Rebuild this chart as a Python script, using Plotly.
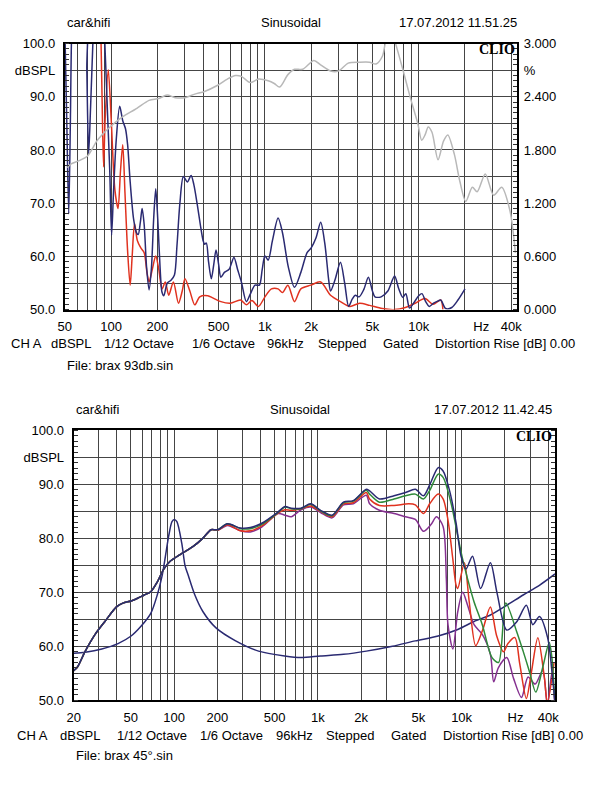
import math
import plotly.graph_objects as go

W, H = 608, 786

# ---------------- Top chart (distortion) ----------------
TOP_X_LABEL_VALS = [50, 100, 200, 500, 1000, 2000, 5000, 10000, 25500, 40000]
TOP_X_LABEL_TEXT = ["50", "100", "200", "500", "1k", "2k", "5k", "10k", "Hz", "40k"]
TOP_GRID_F = ([50, 60, 70, 80, 90] + [100 * k for k in range(1, 10)] +
              [1000 * k for k in range(1, 10)] + [10000, 20000, 30000, 40000])

DB_TICK_VALS = [50, 55, 60, 65, 70, 75, 80, 85, 90, 95, 100]
DB_TICK_TEXT = ["50.0", "", "60.0", "", "70.0", "", "80.0", "", "90.0", "dBSPL", "100.0"]
PCT_TICK_VALS = [0, 0.3, 0.6, 0.9, 1.2, 1.5, 1.8, 2.1, 2.4, 2.7, 3.0]
PCT_TICK_TEXT = ["0.000", "", "0.600", "", "1.200", "", "1.800", "", "2.400", "%", "3.000"]

TOP_BLUE_F = [50, 51.5, 53, 54.3, 55.5, 57, 68, 69.5, 71.4, 73.5, 76.5, 78, 88, 91, 95, 98,
              100.7, 103.6, 108, 113.7, 119, 124, 128, 133, 140, 146, 150, 155, 159, 164, 170,
              176.5, 183, 189, 195, 201, 208, 214, 220, 232, 245, 258, 268, 280, 295, 313, 331,
              345, 362, 380, 396, 405, 416, 430, 448, 465, 481, 500, 517, 545, 585, 629, 665,
              703, 757, 800, 862, 920, 960, 1000, 1050, 1120, 1218, 1300, 1420, 1557, 1713,
              1880, 2000, 2150, 2305, 2450, 2600, 2671, 2850, 3099, 3300, 3502, 3700, 3867,
              4100, 4400, 4706, 5000, 5193, 5700, 6300, 6970, 7400, 7880, 8250, 8713, 9300,
              10000, 10500, 11100, 11720, 12500, 13300, 13910, 14960, 16420, 18000, 20000]
TOP_BLUE_DB = [103, 85, 68, 85, 103, 108, 108, 95, 79.2, 88, 102, 108, 108, 100, 86, 76,
               64, 72, 82, 88.2, 85.5, 84, 81, 74, 67, 64.5, 64.1, 66.5, 69, 66, 58,
               53.7, 58, 67, 72.7, 67, 58, 53.3, 52.6, 55, 55.5, 56.5, 62, 70, 75, 74, 75.2,
               73.5, 70, 66, 63, 62.3, 62.5, 59, 55.8, 58.5, 61.2, 58.5, 56.1, 57, 57.6, 59.8, 57.5,
               55.2, 51.5, 52.8, 54.6, 54.6, 57.5, 60.1, 59.3, 63, 67.2, 64.5, 58, 54.2, 57,
               60.7, 61.6, 63.5, 66.4, 62.5, 55.5, 53.5, 55.5, 58.9, 55, 50.6, 52, 52.7,
               52.4, 53.8, 56.1, 53.5, 52.4, 52.4, 53.5, 56.3, 54, 52.3, 53, 50.3, 51.3,
               52.6, 53, 51.5, 50.6, 51.2, 51.6, 51.8, 50.2, 50.4, 51.8, 53.9]

TOP_RED_F = [85.5, 87.3, 89.3, 91.5, 95.8, 100, 105.8, 110.9, 115, 119, 123, 128, 133, 137,
             142, 148, 156, 164, 171, 176.5, 185, 195, 204, 214.5, 225, 237, 254, 274, 290,
             302, 325, 350, 377, 425, 458, 517, 596, 694, 757, 823, 908, 1000, 1103, 1218,
             1300, 1411, 1557, 1713, 1988, 2305, 2671, 3099, 3569, 4131, 4800, 5790, 6970,
             8195, 9490, 10985, 12400, 13910, 14370]
TOP_RED_DB = [104, 90, 76.8, 86, 95.1, 86, 72.5, 69, 76, 81, 72, 61, 54.6, 60,
              66.2, 63, 61.6, 60.7, 57, 55.2, 57.5, 60.1, 57.6, 53.9, 55.2, 52.7, 55.2, 51.2, 53.5,
              55.8, 53.5, 50.9, 52.4, 52.6, 52.2, 51.5, 51.2, 51.8, 50.9, 51.7, 50.6, 52.4, 53.9, 53.9,
              53.2, 54.6, 51.5, 53.9, 54.6, 55.2, 52.7, 51.5, 50.6, 51.2, 50.8, 50.2, 50.0,
              50.4, 51.2, 52.1, 51.0, 51.8, 50.0]

TOP_GRAY_F = [52, 54.6, 62, 70, 80.6, 87.1, 100, 113.7, 122.6, 147, 176.5, 204, 231, 261,
              302, 350, 405, 493, 570, 644, 703, 803, 908, 1050, 1150, 1247, 1411, 1557, 1758,
              2084, 2300, 2671, 3005, 3481, 4131, 4786, 5281, 5815, 6053, 6300, 6800, 7079,
              7880, 8820, 9860, 10460, 11000, 11535, 12200, 13360, 14500, 15460, 17060, 18500,
              20230, 22330, 24000, 27100, 30700, 34650, 39150, 42550]
TOP_GRAY_PCT = [1.60, 1.64, 1.68, 1.73, 1.90, 1.97, 2.07, 2.15, 2.19, 2.27, 2.36, 2.38, 2.42, 2.39,
                2.39, 2.43, 2.46, 2.53, 2.60, 2.64, 2.63, 2.56, 2.60, 2.58, 2.55, 2.51, 2.65, 2.71, 2.71,
                2.81, 2.76, 2.69, 2.69, 2.78, 2.79, 2.79, 2.77, 2.86, 3.0, 3.1, 3.1, 3.0,
                2.71, 2.39, 2.10, 1.91, 1.97, 2.06, 2.0, 1.69, 1.9, 1.97, 1.75, 1.45,
                1.22, 1.38, 1.33, 1.53, 1.29, 1.38, 1.12, 0.64]

# ---------------- Bottom chart (frequency response) ----------------
BOT_X_LABEL_VALS = [20, 50, 100, 200, 500, 1000, 2000, 5000, 10000, 23700, 40000]
BOT_X_LABEL_TEXT = ["20", "50", "100", "200", "500", "1k", "2k", "5k", "10k", "Hz", "40k"]
BOT_GRID_F = ([20, 30, 40, 50, 60, 70, 80, 90] + [100 * k for k in range(1, 10)] +
              [1000 * k for k in range(1, 10)] + [10000, 20000, 30000, 40000])

FR_LOW_F = [20, 21.2, 24.1, 28.2, 33, 39.7, 44, 50.2, 55.7, 61.9, 68.8, 76.3, 84.7, 94.2,
            110, 135.7, 158.8, 180.8]
FR_LOW_DB = [55.5, 56.1, 59.1, 62.2, 64.6, 67.3, 68.0, 68.4, 68.9, 69.5, 70.1, 71.9, 74.3, 75.8,
             77.0, 78.5, 80.05, 81.6]

FR_MID_F = [201, 235, 290, 339, 407, 529, 590, 652, 763, 892, 1044, 1255, 1506, 1762, 2173]
NAVY_MID_DB = [81.6, 82.7, 81.9, 82.0, 82.8, 84.9, 85.9, 85.6, 85.6, 86.4, 85.2, 84.3, 86.7, 87.0, 89.1]
GREEN_MID_DB = [81.6, 82.7, 81.8, 81.8, 82.6, 84.8, 85.8, 85.5, 85.5, 86.3, 85.1, 84.2, 86.6, 86.9, 88.9]
RED_MID_DB = [81.5, 82.5, 81.4, 81.4, 82.3, 84.7, 85.3, 85.2, 85.5, 86.0, 85.0, 84.0, 86.4, 86.6, 88.5]
PURPLE_MID_DB = [81.5, 82.4, 81.4, 81.2, 82.1, 84.6, 84.3, 84.0, 85.3, 85.8, 84.8, 83.8, 86.2, 86.4, 88.0]

NAVY_HI_F = [2290, 2679, 3388, 4074, 4764, 5428, 6026, 6868, 7430, 8252, 9152, 9900, 10710,
             11900, 13550, 15850, 17600, 20600, 24100, 28200, 31300, 34760, 39650, 42860, 44680]
NAVY_HI_DB = [88.8, 87.3, 87.9, 88.5, 89.1, 87.9, 90.05, 93.1, 92.5, 88.8, 82.8, 76.7, 74.3,
              76.7, 70.7, 75.5, 70, 63, 64.5, 67.6, 64, 65.5, 61.6, 54.3, 49.5]

GREEN_HI_F = [2290, 2679, 3388, 4074, 4764, 5428, 6026, 6868, 7430, 8464, 9400, 10170, 11000,
              12210, 13920, 16280, 18080, 20280, 24100, 26780, 29720, 32800, 36680, 40680,
              42420, 44680]
GREEN_HI_DB = [88.2, 86.7, 87.3, 87.9, 88.2, 87.3, 89.0, 91.9, 91.3, 86.4, 80.4, 76.1, 72.5,
               68.2, 64.0, 57.9, 57.0, 68.0, 62.8, 59.1, 55.2, 51.5, 56.1, 60.7,
               58.0, 49.0]

RED_HI_F = [2290, 2679, 3388, 4290, 4764, 5428, 6026, 6868, 7430, 8036, 8690, 9152, 9400,
            10450, 11300, 12530, 14000, 15850, 17500, 19560, 21000, 23470, 25390, 28200,
            30500, 33890, 37600, 39500, 43960]
RED_HI_DB = [87.3, 86.1, 86.1, 86.4, 86.2, 84.6, 86.5, 88.2, 87.3, 83.4, 76.1, 71.3, 70.7,
             75.5, 68.2, 60.1, 63.0, 67.3, 62.0, 59.0, 60.5, 61.6, 56.7, 50.3,
             55.0, 61.6, 54.3, 49.5, 57.0]

PURPLE_HI_F = [2290, 2679, 3388, 4074, 4764, 5428, 6100, 6686, 7430, 7826, 8036, 8690, 9400,
               10170, 11000, 12210, 13920, 15850, 16720, 18000, 20600, 23000, 26090, 28980,
               32500, 36680, 39500, 42400, 44680]
PURPLE_HI_DB = [86.4, 85.2, 84.6, 84.0, 83.5, 81.3, 82.5, 84.0, 82.2, 72.5, 64.0, 59.5, 66.4,
                70.0, 67.6, 64.0, 62.2, 58.5, 53.4, 56.0, 57.9, 54.0, 50.5, 54.3,
                53.0, 55.5, 49.0, 55.0, 48.0]

IMP_F = [20, 24.1, 31.4, 40.7, 50.2, 58.8, 68.8, 76.3, 82.5, 87, 91.6, 96.6, 100.2, 104.5,
         113, 119.2, 125.5, 139.4, 158.8, 195.6, 267.8, 386.7, 587, 763, 1044, 1506, 2173,
         3300, 4764, 6868, 9400, 12210, 15850, 20600, 26780, 34760, 44680]
IMP_DB = [58.7, 58.9, 59.5, 60.5, 61.9, 63.7, 66.1, 69.5, 73.1, 76.7, 80.4, 83.1, 83.5, 83.1,
          79.1, 74.9, 73.1, 69.5, 66.4, 63.4, 61.0, 59.1, 58.2, 57.9, 58.2, 58.5, 59.1,
          60.0, 61.0, 61.9, 63.1, 64.6, 65.8, 67.6, 69.5, 71.3, 73.4]

# ---------------- styles ----------------
NAVY = "#2a2a72"
RED = "#e0321f"
GRAY = "#b8b8b8"
GREEN = "#2f8a3a"
PURPLE = "#853090"
GRID = "#454545"
FONT = "Liberation Sans, Arial, sans-serif"
FS = 13


def px_x(p):
    return p / W


def px_y(p):
    return 1 - p / H


fig = go.Figure()


def line(x, y, color, xa, ya, width=1.5):
    fig.add_trace(go.Scatter(x=x, y=y, mode="lines", xaxis=xa, yaxis=ya,
                             line=dict(color=color, width=width, shape="spline", smoothing=0.8),
                             hoverinfo="skip"))


# top
line(TOP_GRAY_F, TOP_GRAY_PCT, GRAY, "x", "y2")
line(TOP_RED_F, TOP_RED_DB, RED, "x", "y")
line(TOP_BLUE_F, TOP_BLUE_DB, NAVY, "x", "y")

# bottom
line(IMP_F, IMP_DB, NAVY, "x2", "y3")
line(FR_LOW_F + FR_MID_F + PURPLE_HI_F, FR_LOW_DB + PURPLE_MID_DB + PURPLE_HI_DB, PURPLE, "x2", "y3")
line(FR_LOW_F + FR_MID_F + RED_HI_F, FR_LOW_DB + RED_MID_DB + RED_HI_DB, RED, "x2", "y3")
line(FR_LOW_F + FR_MID_F + GREEN_HI_F, FR_LOW_DB + GREEN_MID_DB + GREEN_HI_DB, GREEN, "x2", "y3")
line(FR_LOW_F + FR_MID_F + NAVY_HI_F, FR_LOW_DB + NAVY_MID_DB + NAVY_HI_DB, NAVY, "x2", "y3")

tickfont = dict(family=FONT, size=FS, color="black")


def xaxis_cfg(dom, anchor, rng, vals, text, grid):
    return dict(domain=dom, anchor=anchor, type="log", range=rng,
                tickmode="array", tickvals=vals, ticktext=text, showgrid=False,
                minor=dict(tickmode="array", tickvals=grid, showgrid=True, gridcolor=GRID,
                           gridwidth=1.2, ticks=""),
                ticks="", showline=True, linecolor="black", linewidth=2, mirror=True,
                tickfont=tickfont, ticklabelstandoff=4, zeroline=False, fixedrange=True)


def yaxis_cfg(dom, anchor):
    return dict(domain=dom, anchor=anchor, range=[50, 100], tickmode="array",
                tickvals=DB_TICK_VALS, ticktext=DB_TICK_TEXT, showgrid=True, gridcolor=GRID,
                gridwidth=1.2, ticks="",
                minor=dict(tickmode="linear", dtick=1, ticks="inside", ticklen=4,
                           tickcolor="#333", showgrid=False),
                showline=True, linecolor="black", linewidth=2, mirror="ticks",
                tickfont=tickfont, ticklabelstandoff=5, zeroline=False, fixedrange=True)


TOP_DOM_X = [px_x(59), px_x(520)]
TOP_DOM_Y = [px_y(308.5), px_y(37.3)]
BOT_DOM_X = [px_x(68), px_x(559)]
BOT_DOM_Y = [px_y(706.7), px_y(431.7)]

layout = dict(
    width=W, height=H, autosize=False,
    margin=dict(l=0, r=0, t=0, b=0),
    paper_bgcolor="white", plot_bgcolor="white",
    showlegend=False,
    xaxis=xaxis_cfg(TOP_DOM_X, "y", [math.log10(50), math.log10(43400)],
                    TOP_X_LABEL_VALS, TOP_X_LABEL_TEXT, TOP_GRID_F),
    yaxis=yaxis_cfg(TOP_DOM_Y, "x"),
    yaxis2=dict(overlaying="y", side="right", anchor="x", range=[0, 3], tickmode="array",
                tickvals=PCT_TICK_VALS, ticktext=PCT_TICK_TEXT, showgrid=False, ticks="",
                minor=dict(tickmode="linear", dtick=0.06, ticks="inside", ticklen=4,
                           tickcolor="#333", showgrid=False),
                showline=False, tickfont=tickfont, ticklabelstandoff=6, zeroline=False,
                fixedrange=True),
    xaxis2=xaxis_cfg(BOT_DOM_X, "y3", [math.log10(20), math.log10(44600)],
                     BOT_X_LABEL_VALS, BOT_X_LABEL_TEXT, BOT_GRID_F),
    yaxis3=yaxis_cfg(BOT_DOM_Y, "x2"),
)
fig.update_layout(**layout)


def text(s, x, y, xanchor="left", size=FS, family=FONT, bold=False):
    fig.add_annotation(text=("<b>%s</b>" % s) if bold else s, x=px_x(x), y=px_y(y),
                       xref="paper", yref="paper", xanchor=xanchor, yanchor="middle",
                       showarrow=False, font=dict(family=family, size=size, color="black"))


# headers
text("car&amp;hifi", 59, 16)
text("Sinusoidal", 290, 16, "center")
text("17.07.2012 11.51.25", 522, 16, "right")
text("car&amp;hifi", 68, 410)
text("Sinusoidal", 299, 410, "center")
text("17.07.2012 11.42.45", 558, 410, "right")

# CLIO logos
text("CLIO", 520, 43, "right", size=14, family="Liberation Serif, Times New Roman, serif", bold=True)
text("CLIO", 558, 438, "right", size=14, family="Liberation Serif, Times New Roman, serif", bold=True)

# footers
FOOT_PARTS = ["CH A", "dBSPL", "1/12 Octave", "1/6 Octave", "96kHz", "Stepped", "Gated",
              "Distortion Rise [dB] 0.00"]
TOP_FOOT_X = [2, 43, 97, 187, 263, 315, 382, 435]
BOT_FOOT_X = [8, 52, 110, 195, 272, 323, 390, 443]
for s, x in zip(FOOT_PARTS, TOP_FOOT_X):
    text(s, x, 343)
for s, x in zip(FOOT_PARTS, BOT_FOOT_X):
    text(s, x, 743)
text("File: brax 93db.sin", 59, 365)
text("File: brax 45°.sin", 68, 763)

fig.write_html("out.html", include_plotlyjs=True, config={"displayModeBar": False},
               post_script="document.body.style.margin='0';document.body.style.overflow='hidden';")
